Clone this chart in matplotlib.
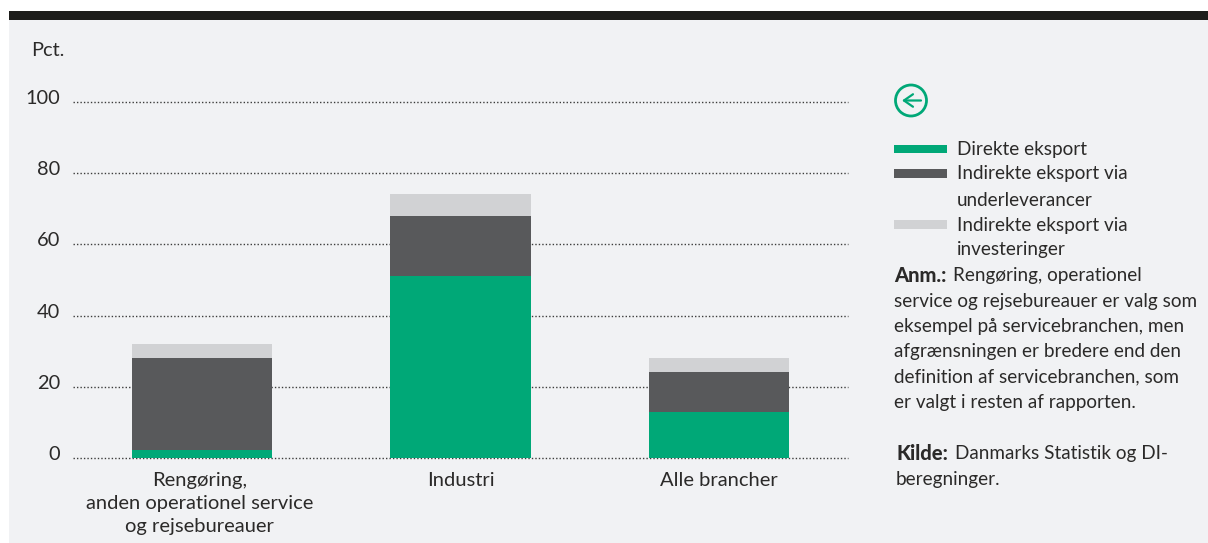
import matplotlib
matplotlib.use('Agg')
import matplotlib.pyplot as plt
from matplotlib.patches import Rectangle, Circle
from matplotlib.transforms import ScaledTranslation

plt.rcParams['font.family'] = ['Lato', 'DejaVu Sans']

categories = ['Rengøring,\nanden operationel service\nog rejsebureauer', 'Industri', 'Alle brancher']
direkte = [2.2, 51, 13]
underlev = [25.8, 17, 11.2]
invest = [4, 6.2, 3.9]
y_ticks = [0, 20, 40, 60, 80, 100]

GREEN = '#00a877'
DARK = '#58595b'
LIGHT = '#d1d2d4'
BG = '#f1f2f4'
TEXT = '#2b2a29'

W, H = 1208, 543
fig = plt.figure(figsize=(W / 100, H / 100), dpi=100, facecolor='white')

# overlay in pixel coordinates for the panel, legend and notes
bg = fig.add_axes([0, 0, 1, 1], zorder=0)
bg.set_xlim(0, W)
bg.set_ylim(H, 0)
bg.axis('off')
bg.add_patch(Rectangle((9, 20), W - 9, H - 20, color=BG, lw=0))
bg.add_patch(Rectangle((9, 11), W - 9, 9, color='#1d1d1b', lw=0))

# the chart itself
ax = fig.add_axes([73 / W, 1 - 458 / H, 775 / W, 356 / H], zorder=1)
ax.patch.set_alpha(0)
x = [0, 1, 2]
bottom2 = [a + b for a, b in zip(direkte, underlev)]
ax.bar(x, direkte, width=0.542, color=GREEN, zorder=3)
ax.bar(x, underlev, width=0.542, bottom=direkte, color=DARK, zorder=3)
ax.bar(x, invest, width=0.542, bottom=bottom2, color=LIGHT, zorder=3)
ax.set_xlim(-0.5, 2.5)
ax.set_ylim(0, 100)
ax.set_yticks(y_ticks)
ax.set_xticks(x)
ax.set_xticklabels(categories, fontsize=14.5, color=TEXT, linespacing=1.42)
ax.tick_params(axis='x', length=0, pad=10)
ax.tick_params(axis='y', length=0, pad=13, labelsize=14.4, labelcolor=TEXT)
ax.grid(axis='y', color='#3c3c3b', linestyle=(0, (1, 1.5)), linewidth=1, zorder=1, clip_on=False)
ax.set_axisbelow(True)
for s in ax.spines.values():
    s.set_visible(False)

# nudge the tick labels by a few pixels
fig.canvas.draw()
for lab in ax.get_yticklabels():
    lab.set_verticalalignment('baseline')
    lab.set_transform(lab.get_transform() + ScaledTranslation(5 / 100, -2 / 100, fig.dpi_scale_trans))
first = ax.get_xticklabels()[0]
first.set_transform(first.get_transform() + ScaledTranslation(-2.5 / 100, 0, fig.dpi_scale_trans))

bg.text(31, 50, 'Pct.', fontsize=14.4, color=TEXT, va='center')

# arrow icon
bg.add_patch(Circle((911, 100.5), 15.5, fill=False, ec=GREEN, lw=2))
bg.annotate('', xy=(902, 100.5), xytext=(921, 100.5),
            arrowprops=dict(arrowstyle='->,head_width=0.45,head_length=0.65', color=GREEN, lw=1.6,
                            shrinkA=0, shrinkB=0))

# legend
bg.add_patch(Rectangle((894, 145), 53, 8, color=GREEN, lw=0))
bg.add_patch(Rectangle((894, 169), 53, 9, color=DARK, lw=0))
bg.add_patch(Rectangle((894, 220), 53, 9, color=LIGHT, lw=0))
legend_lines = [(149, 'Direkte eksport'), (174, 'Indirekte eksport via'), (200, 'underleverancer'),
                (225, 'Indirekte eksport via'), (250, 'investeringer')]
for y, t in legend_lines:
    bg.text(957, y, t, fontsize=13.6, color=TEXT, va='center')

note_lines = ['service og rejsebureauer er valg som', 'eksempel på servicebranchen, men',
              'afgrænsningen er bredere end den', 'definition af servicebranchen, som',
              'er valgt i resten af rapporten.']
bg.text(894, 276, 'Anm.:', fontsize=14.5, color=TEXT, va='center', fontweight='black')
bg.text(953, 276, 'Rengøring, operationel', fontsize=13.6, color=TEXT, va='center')
for i, line in enumerate(note_lines):
    bg.text(894, 301 + i * 25.3, line, fontsize=13.6, color=TEXT, va='center')
bg.text(896, 454, 'Kilde:', fontsize=14.5, color=TEXT, va='center', fontweight='black')
bg.text(955, 454, 'Danmarks Statistik og DI-', fontsize=13.6, color=TEXT, va='center')
bg.text(896, 479, 'beregninger.', fontsize=13.6, color=TEXT, va='center')

fig.savefig('out.png', dpi=100, facecolor=fig.get_facecolor())
